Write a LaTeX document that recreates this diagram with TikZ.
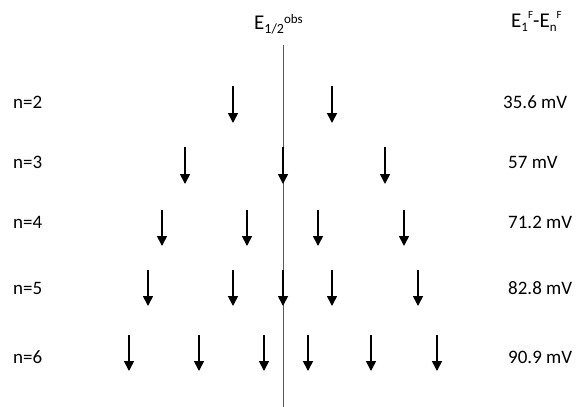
\documentclass[tikz,border=0pt]{standalone}
\usepackage{fontspec}
\setmainfont{Carlito}
\usetikzlibrary{arrows.meta}
\newcommand{\mysub}[2][14]{\raisebox{-4pt}{\fontsize{#1}{#1}\selectfont #2}}
\newcommand{\mysup}[3][13]{\raisebox{#2}{\fontsize{#1}{#1}\selectfont #3}}
\tikzset{
  lbl/.style={inner sep=0pt, font=\fontsize{19}{22}\selectfont, text=black},
  head/.style={inner sep=0pt, font=\fontsize{21}{24}\selectfont, text=black},
  darr/.style={line width=1.6pt, -{Triangle[width=10pt,length=10pt]}, black},
  axis/.style={line width=0.8pt, black!65}
}
\begin{document}
\begin{tikzpicture}[x=1pt,y=-1pt]
\useasboundingbox (0,0) rectangle (576,407);
% headings
\node[head, anchor=base west] (hobs) at (254,29) {E\mysub{1/2}\mysup{6pt}{obs}};
\node[head, anchor=base west] (hdiff) at (511,27) {E\mysub[13]{1}\mysup[11]{9pt}{F}-E\mysub[13]{n}\mysup[11]{9pt}{F}};
% vertical axis
\coordinate (vtop) at (283,45);
\coordinate (vbot) at (283,407);
\draw[axis] (vtop) -- (vbot);
% row labels
\node[lbl, anchor=west] (n2) at (13,102) {n=2};
\node[lbl, anchor=west] (n3) at (13,162) {n=3};
\node[lbl, anchor=west] (n4) at (13,222) {n=4};
\node[lbl, anchor=west] (n5) at (13,288) {n=5};
\node[lbl, anchor=west] (n6) at (13,357) {n=6};
\node[lbl, anchor=west] (v2) at (503,102) {35.6 mV};
\node[lbl, anchor=west] (v3) at (508,162) {57 mV};
\node[lbl, anchor=west] (v4) at (508,222) {71.2 mV};
\node[lbl, anchor=west] (v5) at (508,288) {82.8 mV};
\node[lbl, anchor=west] (v6) at (508,357) {90.9 mV};
% arrows
\foreach \r/\yt/\yb/\xs in {2/86/123/{233,332},
                            3/147/184/{185,283,385},
                            4/210/246/{162,247,318,404},
                            5/270/306/{148,233,283,332,418},
                            6/335/371/{129,199,264,308,371,437}}{
  \foreach \x [count=\i] in \xs {
    \coordinate (a\r-\i-top) at (\x,\yt);
    \coordinate (a\r-\i-tip) at (\x,\yb);
    \draw[darr] (a\r-\i-top) -- (a\r-\i-tip);
  }
}
\end{tikzpicture}
\end{document}
